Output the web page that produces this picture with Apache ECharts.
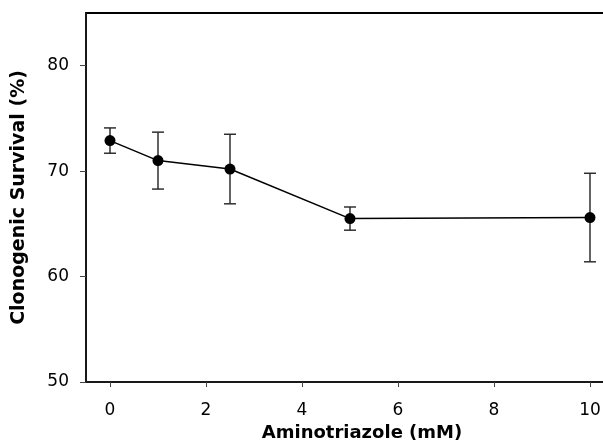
<!DOCTYPE html>
<html>
<head>
<meta charset="utf-8">
<script src="https://cdn.jsdelivr.net/npm/echarts@6/dist/echarts.min.js"></script>
<style>
  html, body { margin: 0; padding: 0; background: #fff; }
  #main { width: 603px; height: 444px; }
</style>
</head>
<body>
<div id="main"></div>
<script>
// Aminotriazole dose (mM) and clonogenic survival (%)
const doses = [0, 1, 2.5, 5, 10];
const survival = [72.9, 71.0, 70.2, 65.5, 65.6];
const errLow = [71.7, 68.3, 66.9, 64.4, 61.4];
const errHigh = [74.1, 73.7, 73.5, 66.6, 69.8];
const xTicks = [0, 2, 4, 6, 8, 10];
const yTicks = [50, 60, 70, 80];

const font = 'DejaVu Sans, Arial, sans-serif';

const points = doses.map((d, i) => [d, survival[i]]);
const errData = doses.map((d, i) => [d, errLow[i], errHigh[i]]);

var myChart = echarts.init(document.getElementById('main'));

const option = {
  animation: false,
  grid: {
    left: 86, top: 13, right: -35, bottom: 62,
    outerBoundsMode: 'none',
    containLabel: false,
    show: true, borderColor: '#000', borderWidth: 2,
    backgroundColor: 'transparent'
  },
  xAxis: {
    type: 'value', min: -0.5, max: 11,
    name: 'Aminotriazole (mM)', nameLocation: 'middle', nameGap: 41,
    nameTextStyle: { fontFamily: font, fontWeight: 'bold', fontSize: 18, color: '#000' },
    axisLine: { onZero: false, lineStyle: { color: '#222', width: 1.5 } },
    axisTick: { customValues: xTicks, length: 5, lineStyle: { color: '#444' } },
    axisLabel: { customValues: xTicks, fontFamily: font, fontSize: 17, color: '#000', margin: 20 },
    splitLine: { show: false }
  },
  yAxis: {
    type: 'value', min: 50, max: 85,
    name: 'Clonogenic Survival (%)', nameLocation: 'middle', nameGap: 57,
    nameTextStyle: { fontFamily: font, fontWeight: 'bold', fontSize: 19, color: '#000' },
    axisLine: { onZero: false, lineStyle: { color: '#222', width: 1.5 } },
    axisTick: { customValues: yTicks, length: 6, lineStyle: { color: '#444' } },
    axisLabel: { customValues: yTicks, fontFamily: font, fontSize: 17, color: '#000', margin: 17 },
    splitLine: { show: false }
  },
  series: [
    {
      type: 'custom',
      data: errData,
      z: 3,
      renderItem: (params, api) => {
        const x = api.value(0);
        const lo = api.coord([x, api.value(1)]);
        const hi = api.coord([x, api.value(2)]);
        const w = 6;
        const style = { stroke: '#222', lineWidth: 1.4 };
        return {
          type: 'group',
          children: [
            { type: 'line', shape: { x1: lo[0], y1: lo[1], x2: hi[0], y2: hi[1] }, style },
            { type: 'line', shape: { x1: hi[0] - w, y1: hi[1], x2: hi[0] + w, y2: hi[1] }, style },
            { type: 'line', shape: { x1: lo[0] - w, y1: lo[1], x2: lo[0] + w, y2: lo[1] }, style }
          ]
        };
      }
    },
    {
      type: 'line',
      data: points,
      z: 4,
      symbol: 'circle',
      symbolSize: 11,
      lineStyle: { color: '#000', width: 1.5 },
      itemStyle: { color: '#000' }
    }
  ]
};

myChart.setOption(option);
</script>
</body>
</html>
